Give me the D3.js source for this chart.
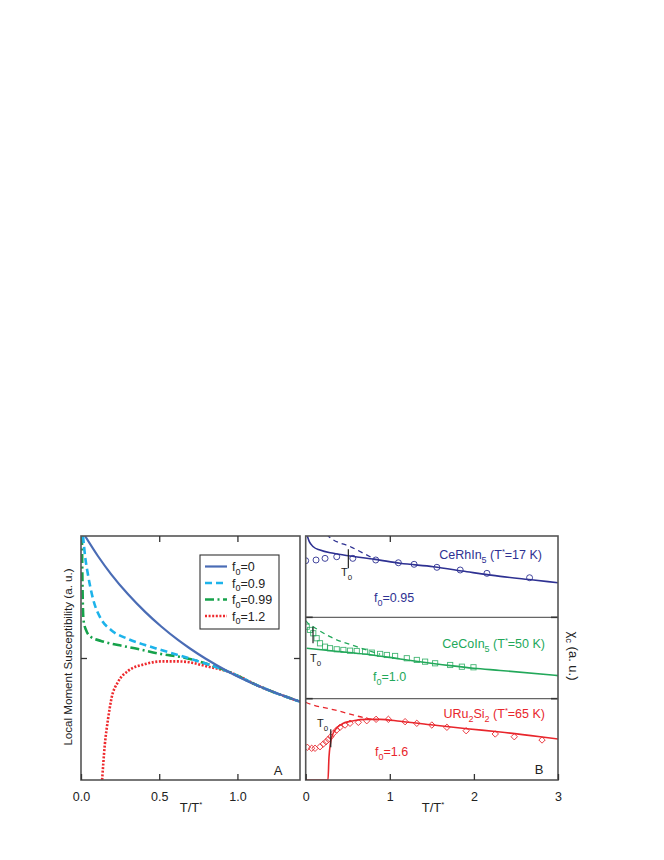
<!DOCTYPE html>
<html><head><meta charset="utf-8">
<script src="https://cdn.jsdelivr.net/npm/d3@7"></script>
<style>
body{margin:0;background:#fff;}
text{font-family:"Liberation Sans",Arial,Helvetica,sans-serif;}
</style></head>
<body>
<svg id="c" width="664" height="860"></svg>
<script>
// ---------- Panel A data: [T/T*, susceptibility (a.u.)] ----------
const f0_0 = [[0.026,10.0],[0.109,9.17],[0.192,8.44],[0.301,7.61],[0.410,6.89],[0.513,6.29],[0.622,5.73],[0.699,5.38],[0.795,4.98],[0.942,4.44],[1.147,3.82],[1.404,3.20]];
const f0_09 = [[0.013,10.0],[0.026,9.18],[0.045,8.40],[0.077,7.42],[0.128,6.60],[0.192,6.15],[0.301,5.78],[0.410,5.53],[0.513,5.33],[0.622,5.12],[0.763,4.84],[0.942,4.44],[1.147,3.82],[1.404,3.20]];
const f0_099 = [[0.006,10.0],[0.010,7.79],[0.016,6.56],[0.032,6.15],[0.064,5.86],[0.128,5.70],[0.237,5.53],[0.365,5.37],[0.513,5.16],[0.641,5.04],[0.763,4.84],[0.942,4.44],[1.147,3.82],[1.404,3.20]];
const f0_12 = [[0.135,0.0],[0.152,1.43],[0.173,2.50],[0.194,3.32],[0.237,4.02],[0.301,4.47],[0.410,4.75],[0.513,4.86],[0.622,4.86],[0.699,4.82],[0.795,4.67],[0.942,4.44],[1.147,3.82],[1.404,3.20]];
const legendLabels = ["0","0.9","0.99","1.2"];
const ticksA = [0.0, 0.5, 1.0];
const tickLabelsA = ["0.0","0.5","1.0"];

// ---------- Panel B data ----------
// CeRhIn5 (T*=17 K), f0=0.95
const rhFit = [[0.019,10.0],[0.043,9.30],[0.090,8.68],[0.170,8.27],[0.329,7.87],[0.527,7.54],[0.825,7.13],[1.123,6.64],[1.519,6.22],[1.917,5.61],[2.313,5.04],[2.710,4.59],[3.004,4.25]];
const rhDash = [[0.25,10.25],[0.269,10.0],[0.548,8.61],[0.825,7.13]];
const rhData = [[0.0,6.96],[0.123,7.05],[0.230,7.25],[0.369,7.45],[0.560,7.25],[0.833,7.05],[1.102,6.71],[1.289,6.52],[1.560,6.15],[1.837,5.82],[2.155,5.41],[2.662,4.87]];
const rhT0 = [0.507, 8.36, 6.02];
// CeCoIn5 (T*=50 K), f0=1.0
const coFit = [[0.012,6.20],[0.329,5.86],[0.726,5.46],[1.123,4.88],[1.718,4.06],[1.995,3.74],[2.313,3.47],[3.007,2.83]];
const coDash = [[0.0,9.6],[0.012,9.43],[0.090,8.85],[0.289,7.62],[0.607,6.39],[0.885,5.46]];
const coData = [[0.012,8.85],[0.051,8.45],[0.090,8.04],[0.130,7.43],[0.170,6.81],[0.230,6.39],[0.289,6.20],[0.369,6.07],[0.448,5.99],[0.527,5.90],[0.607,5.86],[0.706,5.78],[0.786,5.66],[0.885,5.50],[0.965,5.37],[1.063,5.25],[1.202,4.97],[1.321,4.76],[1.420,4.55],[1.539,4.35],[1.718,4.14],[1.857,3.93],[1.995,3.86]];
const coT0 = [0.087, 8.85, 6.81];
// URu2Si2 (T*=65 K), f0=1.6
const urFit = [[0.0,0.0],[0.265,0.0],[0.277,2.83],[0.310,5.29],[0.369,6.39],[0.448,6.97],[0.567,7.29],[0.726,7.46],[0.885,7.46],[1.123,7.22],[1.515,6.76],[1.917,6.31],[2.313,5.90],[2.789,5.32],[3.004,5.04]];
const urDash = [[0.0,9.55],[0.012,9.50],[0.369,8.55],[0.726,7.59],[0.845,7.38]];
const urData = [[0.019,4.02],[0.071,3.90],[0.111,3.90],[0.170,4.09],[0.210,4.43],[0.242,4.71],[0.269,5.00],[0.298,5.32],[0.329,5.74],[0.369,6.15],[0.408,6.48],[0.468,6.76],[0.527,6.97],[0.626,7.09],[0.726,7.29],[0.837,7.46],[0.983,7.46],[1.182,7.17],[1.321,6.97],[1.500,6.76],[1.679,6.48],[1.908,6.06],[2.254,5.66],[2.480,5.32],[2.810,4.92]];
const urT0 = [0.298, 6.23, 4.02];
const ticksB = [0, 1, 2, 3];

// ---------- drawing ----------
const svg = d3.select("#c");
const FRAME = "#555";
const defs = svg.append("defs");

const A = {l:81, r:300, t:536, b:780};
const xA = d3.scaleLinear().domain([0,1.4]).range([A.l,A.r]);
const yA = d3.scaleLinear().domain([0,10]).range([A.b,A.t]);
defs.append("clipPath").attr("id","clipA").append("rect")
  .attr("x",A.l).attr("y",A.t).attr("width",A.r-A.l).attr("height",A.b-A.t);

const lineA = d3.line().x(d=>xA(d[0])).y(d=>yA(d[1])).curve(d3.curveMonotoneX);
const gA = svg.append("g").attr("clip-path","url(#clipA)");
const stylesA = [
  {data:f0_0,   color:"#4a6cb5", dash:null,        w:2.2},
  {data:f0_09,  color:"#1db3ea", dash:"7,4",       w:2.6},
  {data:f0_099, color:"#16a24b", dash:"9,3.5,2,3.5", w:2.6},
  {data:f0_12,  color:"#ee2a2e", dash:"2,1.6",     w:2.6}
];
stylesA.slice().reverse().forEach(s=>{
  gA.append("path").datum(s.data).attr("d",lineA)
    .attr("fill","none").attr("stroke",s.color).attr("stroke-width",s.w)
    .attr("stroke-dasharray",s.dash);
});

// frame A
svg.append("rect").attr("x",A.l).attr("y",A.t).attr("width",A.r-A.l).attr("height",A.b-A.t)
  .attr("fill","none").attr("stroke",FRAME).attr("stroke-width",1.6);

// axes A (ticks inside)
svg.append("g").attr("transform",`translate(0,${A.b})`)
  .call(d3.axisBottom(xA).tickValues(ticksA).tickSizeInner(-6).tickSizeOuter(0).tickPadding(12)
    .tickFormat((d,i)=>tickLabelsA[i]));
svg.append("g").attr("transform",`translate(0,${A.t})`)
  .call(d3.axisTop(xA).tickValues([0.5,1.0]).tickSizeInner(-6).tickSizeOuter(0).tickFormat(""));
svg.append("g").attr("transform",`translate(${A.l},0)`)
  .call(d3.axisLeft(yA).tickValues([5]).tickSizeInner(-6).tickSizeOuter(0).tickFormat(""));
svg.append("g").attr("transform",`translate(${A.r},0)`)
  .call(d3.axisRight(yA).tickValues([5]).tickSizeInner(-6).tickSizeOuter(0).tickFormat(""));

// ---------- Panel B ----------
const B = {l:305.7, r:558, t:536, b:780};
const xB = d3.scaleLinear().domain([0,3]).range([B.l,B.r]);
const hSub = (B.b-B.t)/3;
const subs = [0,1,2].map(i=>{
  const top = B.t + i*hSub, bot = top + hSub;
  return {top, bot, y: d3.scaleLinear().domain([0,10]).range([bot, top])};
});
subs.forEach((s,i)=>{
  defs.append("clipPath").attr("id","clipB"+i).append("rect")
    .attr("x",B.l).attr("y",s.top).attr("width",B.r-B.l).attr("height",hSub);
});

function drawSub(i, color, fit, dash, data, marker, t0){
  const s = subs[i];
  const ln = d3.line().x(d=>xB(d[0])).y(d=>s.y(d[1])).curve(d3.curveMonotoneX);
  const g = svg.append("g").attr("clip-path",`url(#clipB${i})`);
  g.append("path").datum(dash).attr("d",ln).attr("fill","none")
    .attr("stroke",color).attr("stroke-width",1.3).attr("stroke-dasharray","5,4");
  g.append("path").datum(fit).attr("d",ln).attr("fill","none")
    .attr("stroke",color).attr("stroke-width",1.6);
  const m = g.selectAll(null).data(data).enter();
  if(marker==="circle"){
    m.append("circle").attr("cx",d=>xB(d[0])).attr("cy",d=>s.y(d[1])).attr("r",3)
      .attr("fill","none").attr("stroke",color).attr("stroke-width",0.9);
  } else if(marker==="square"){
    m.append("rect").attr("x",d=>xB(d[0])-2.6).attr("y",d=>s.y(d[1])-2.6)
      .attr("width",5.2).attr("height",5.2)
      .attr("fill","none").attr("stroke",color).attr("stroke-width",0.9).attr("stroke-opacity",0.85);
  } else {
    m.append("path").attr("transform",d=>`translate(${xB(d[0])},${s.y(d[1])})`)
      .attr("d","M0,-3.2L3.2,0L0,3.2L-3.2,0Z")
      .attr("fill","none").attr("stroke",color).attr("stroke-width",0.9);
  }
  g.append("line").attr("x1",xB(t0[0])).attr("x2",xB(t0[0]))
    .attr("y1",s.y(t0[1])).attr("y2",s.y(t0[2])).attr("stroke","#222").attr("stroke-width",1.2);
}
drawSub(0,"#2e3192",rhFit,rhDash,rhData,"circle",rhT0);
drawSub(1,"#22a85a",coFit,coDash,coData,"square",coT0);
drawSub(2,"#e8262c",urFit,urDash,urData,"diamond",urT0);

// separators and frame B
[1,2].forEach(i=>{
  const y = B.t + i*hSub;
  svg.append("line").attr("x1",B.l).attr("x2",B.r).attr("y1",y).attr("y2",y)
    .attr("stroke","#666").attr("stroke-width",1.3);
  svg.append("line").attr("x1",B.l).attr("x2",B.l+7).attr("y1",y).attr("y2",y)
    .attr("stroke","#333").attr("stroke-width",1.6);
  svg.append("line").attr("x1",B.r-7).attr("x2",B.r).attr("y1",y).attr("y2",y)
    .attr("stroke","#333").attr("stroke-width",1.6);
});
svg.append("rect").attr("x",B.l).attr("y",B.t).attr("width",B.r-B.l).attr("height",B.b-B.t)
  .attr("fill","none").attr("stroke",FRAME).attr("stroke-width",1.6);
svg.append("g").attr("transform",`translate(0,${B.b})`)
  .call(d3.axisBottom(xB).tickValues(ticksB).tickSizeInner(-6).tickSizeOuter(0).tickPadding(12)
    .tickFormat(d3.format("d")));
svg.append("g").attr("transform",`translate(0,${B.t})`)
  .call(d3.axisTop(xB).tickValues([1]).tickSizeInner(-6).tickSizeOuter(0).tickFormat(""));

// style axes
svg.selectAll(".domain").remove();
svg.selectAll(".tick line").attr("stroke","#333").attr("stroke-width",1.3);
svg.selectAll(".tick text").attr("font-size",12.5).attr("fill","#222")
  .attr("font-family",'"Liberation Sans",Arial,sans-serif');

// ---------- texts ----------
function subText(x,y,parts,opts){
  const t = svg.append("text").attr("x",x).attr("y",y)
    .attr("font-size",opts.size||12).attr("fill",opts.color||"#222")
    .attr("text-anchor",opts.anchor||"start");
  if(opts.transform) t.attr("transform",opts.transform);
  let shift = 0;
  parts.forEach(p=>{
    const sp = t.append("tspan").text(p[0]);
    let target = 0;
    if(p[1]==="sub"){ target = 3.5; sp.attr("font-size",(opts.size||12)*0.72); }
    else if(p[1]==="sup"){ target = -5; sp.attr("font-size",(opts.size||12)*0.6); }
    sp.attr("dy", target - shift);
    shift = target;
  });
  return t;
}

// axis titles
subText(191,812,[["T/T"],["*","sup"]],{size:13,anchor:"middle"});
subText(433,812,[["T/T"],["*","sup"]],{size:13,anchor:"middle"});
svg.append("text").attr("transform","translate(72,657) rotate(-90)")
  .attr("text-anchor","middle").attr("font-size",11.6).attr("fill","#222")
  .text("Local Moment Susceptibility (a. u.)");
subText(0,0,[["χ"],["c","sub"],[" (a. u.)"]],{size:13,anchor:"middle",transform:"translate(569,656) rotate(90)"});

// panel letters
svg.append("text").attr("x",278).attr("y",775).attr("text-anchor","middle").attr("font-size",13).attr("fill","#222").text("A");
svg.append("text").attr("x",539).attr("y",774).attr("text-anchor","middle").attr("font-size",13).attr("fill","#222").text("B");

// legend
const L = {x:200, y:555, w:79, h:74};
svg.append("rect").attr("x",L.x).attr("y",L.y).attr("width",L.w).attr("height",L.h)
  .attr("fill","#fff").attr("stroke","#333").attr("stroke-width",1.1);
stylesA.forEach((s,i)=>{
  const yy = L.y + 11.5 + i*16.5;
  svg.append("line").attr("x1",L.x+5).attr("x2",L.x+27).attr("y1",yy).attr("y2",yy)
    .attr("stroke",s.color).attr("stroke-width",s.w).attr("stroke-dasharray",s.dash);
  subText(L.x+32, yy+4.5, [["f"],["0","sub"],["="+legendLabels[i]]],{size:12.5});
});

// panel B annotations
subText(542,559,[["CeRhIn"],["5","sub"],[" (T"],["*","sup"],["=17 K)"]],{size:12.5,anchor:"end",color:"#2e3192"});
subText(374,602,[["f"],["0","sub"],["=0.95"]],{size:12.5,color:"#2e3192"});
subText(545,648,[["CeCoIn"],["5","sub"],[" (T"],["*","sup"],["=50 K)"]],{size:12.5,anchor:"end",color:"#22a85a"});
subText(373,681,[["f"],["0","sub"],["=1.0"]],{size:12.5,color:"#22a85a"});
subText(545,718,[["URu"],["2","sub"],["Si"],["2","sub"],[" (T"],["*","sup"],["=65 K)"]],{size:12.5,anchor:"end",color:"#e8262c"});
subText(375,756,[["f"],["0","sub"],["=1.6"]],{size:12.5,color:"#e8262c"});

// T0 labels
subText(341,576,[["T"],["0","sub"]],{size:11,color:"#222"});
subText(310,662,[["T"],["0","sub"]],{size:11,color:"#222"});
subText(317,727,[["T"],["0","sub"]],{size:11,color:"#222"});
</script>
</body></html>
